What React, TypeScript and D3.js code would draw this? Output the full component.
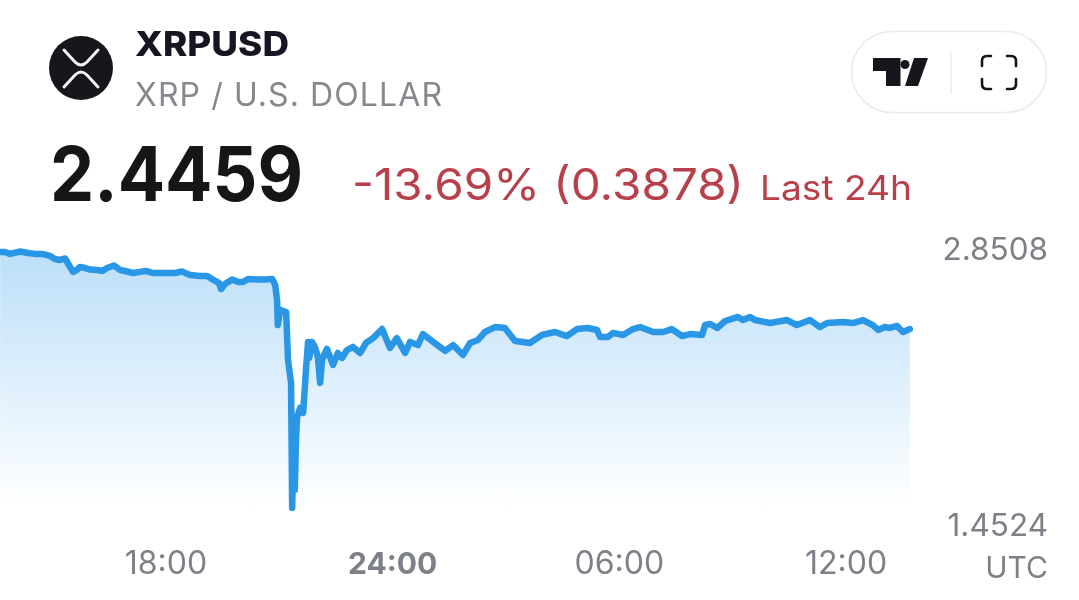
import React from "react";
import * as d3 from "d3";

const symbol = "XRPUSD";
const description = "XRP / U.S. DOLLAR";
const lastPrice = "2.4459";
const change = "-13.69% (0.3878)";
const period = "Last 24h";
const axisUnit = "UTC";

const hours = [
  13.61, 13.74, 13.87, 14.14, 14.35, 14.53, 14.72, 14.93, 15.06, 15.19, 15.33, 15.46, 15.54, 15.64, 15.72, 15.86, 15.99,
  16.17, 16.31, 16.44, 16.62, 16.78, 16.91, 17.13, 17.31, 17.47, 17.66, 17.97, 18.24, 18.42, 18.64, 18.9, 19.09, 19.3,
  19.4, 19.46, 19.56, 19.75, 19.91, 20.04, 20.17, 20.44, 20.62, 20.81, 20.89, 20.94, 20.96, 21.02, 21.18, 21.23, 21.31,
  21.34, 21.39, 21.41, 21.44, 21.47, 21.55, 21.63, 21.71, 21.76, 21.79, 21.86, 21.94, 22.02, 22.08, 22.13, 22.26, 22.42, 22.55,
  22.66, 22.79, 22.95, 23.14, 23.29, 23.48, 23.72, 23.93, 24.11, 24.33, 24.46, 24.67, 24.8, 25.07, 25.39, 25.6, 25.86,
  26.05, 26.26, 26.44, 26.71, 26.97, 27.24, 27.45, 27.63, 27.95, 28.3, 28.61, 28.88, 29.17, 29.41, 29.49, 29.7, 29.83,
  30.1, 30.36, 30.55, 30.89, 31.16, 31.39, 31.66, 31.87, 32.19, 32.27, 32.4, 32.59, 32.8, 33.14, 33.27, 33.46, 33.59,
  33.99, 34.44, 34.7, 35.05, 35.31, 35.5, 35.92, 36.18, 36.45, 36.71, 36.85, 37.03, 37.16, 37.35, 37.51, 37.69,
];

const prices = [
  2.845, 2.845, 2.835, 2.848, 2.84, 2.835, 2.835, 2.824, 2.807, 2.802, 2.81, 2.764, 2.737, 2.748, 2.764, 2.758, 2.75,
  2.748, 2.742, 2.758, 2.772, 2.748, 2.742, 2.731, 2.737, 2.742, 2.731, 2.731, 2.731, 2.739, 2.72, 2.715, 2.715, 2.688,
  2.677, 2.644, 2.671, 2.696, 2.682, 2.682, 2.698, 2.696, 2.696, 2.698, 2.666, 2.584, 2.448, 2.53, 2.519, 2.258, 2.133,
  1.453, 1.931, 1.551, 1.823, 1.948, 1.997, 1.97, 2.22, 2.356, 2.269, 2.356, 2.329, 2.274, 2.133, 2.258, 2.318, 2.231, 2.296,
  2.269, 2.312, 2.329, 2.296, 2.35, 2.377, 2.426, 2.323, 2.377, 2.296, 2.356, 2.339, 2.399, 2.356, 2.307, 2.339, 2.285,
  2.35, 2.367, 2.41, 2.437, 2.432, 2.361, 2.356, 2.35, 2.394, 2.41, 2.388, 2.426, 2.432, 2.421, 2.383, 2.383, 2.405,
  2.394, 2.426, 2.437, 2.41, 2.41, 2.426, 2.388, 2.399, 2.394, 2.448, 2.454, 2.432, 2.47, 2.492, 2.475, 2.492, 2.475,
  2.459, 2.475, 2.448, 2.475, 2.437, 2.459, 2.465, 2.459, 2.475, 2.448, 2.421, 2.437, 2.432, 2.443, 2.41, 2.426,
];

const timeTicks = [18, 24, 30, 36];
const timeTickLabels = ["18:00", "24:00", "06:00", "12:00"];
const priceDomain = [1.4524, 2.8508];
const priceLabels = ["2.8508", "1.4524"];

const FONT = "Inter, 'Liberation Sans', sans-serif";

export default function App() {
  const x = d3.scaleLinear().domain([18, 36]).range([166, 846]);
  const y = d3.scaleLinear().domain(priceDomain).range([508, 251]);
  const points = hours.map((h, i) => [h, prices[i]] as [number, number]);
  const line = d3.line<[number, number]>().x((d) => x(d[0])).y((d) => y(d[1])).curve(d3.curveLinear);
  const area = d3
    .area<[number, number]>()
    .x((d) => x(d[0]))
    .y0(y(priceDomain[0]))
    .y1((d) => y(d[1]));

  return (
    <svg
      width={1079}
      height={600}
      viewBox="0 0 1079 600"
      style={{ position: "absolute", left: 0, top: 0, background: "#fff", fontFamily: FONT }}
    >
      <defs>
        <linearGradient id="fillGrad" gradientUnits="userSpaceOnUse" x1="0" x2="0" y1={251} y2={508}>
          <stop offset="0" stopColor="#bcdff9" />
          <stop offset="1" stopColor="#ffffff" />
        </linearGradient>
        <filter id="soft" x="-5%" y="-5%" width="110%" height="110%">
          <feGaussianBlur stdDeviation="0.6" />
        </filter>
      </defs>

      <g filter="url(#soft)">
        <circle cx={81} cy={68} r={32} fill="#15171b" />
        <path
          d="M64 50 L75 62 Q81 68 87 62 L98 50 M64 87 L75 75 Q81 69 87 75 L98 87"
          fill="none"
          stroke="#f4f4f4"
          strokeWidth={3}
          strokeLinecap="round"
        />
        <text x={135} y={56} fontSize={34} fontWeight={800} fill="#131722" textLength={154} lengthAdjust="spacingAndGlyphs">
          {symbol}
        </text>
        <text x={135} y={106} fontSize={32} fill="#85888d" textLength={307} lengthAdjust="spacing">
          {description}
        </text>
        <text x={50} y={201} fontSize={75} fontWeight={700} fill="#131313" textLength={253} lengthAdjust="spacingAndGlyphs">
          {lastPrice}
        </text>
        <text x={352} y={200} fontSize={44} fill="#b8404c" textLength={392} lengthAdjust="spacingAndGlyphs">
          {change}
        </text>
        <text x={760} y={200} fontSize={34} fill="#b8404c" textLength={152} lengthAdjust="spacingAndGlyphs">
          {period}
        </text>

        <rect x={851.5} y={31.5} width={195} height={81} rx={40.5} fill="#fff" stroke="#e9eaec" strokeWidth={1.5} />
        <line x1={951} x2={951} y1={52} y2={94} stroke="#eceded" strokeWidth={1.5} />
        <path d="M873 58 H900.5 V86 H886 V71 H873 Z" fill="#15171f" />
        <circle cx={905} cy={64.5} r={4.5} fill="#15171f" />
        <path d="M914 58 H928 L918 86 H905 Z" fill="#15171f" />
        <path
          d="M982 66 V61 Q982 56 987 56 H991 M1007 56 H1011 Q1016 56 1016 61 V66 M1016 79 V84 Q1016 89 1011 89 H1007 M991 89 H987 Q982 89 982 84 V79"
          fill="none"
          stroke="#15171f"
          strokeWidth={2.6}
          strokeLinecap="round"
        />

        <path d={area(points) ?? ""} fill="url(#fillGrad)" />
        <path
          d={line(points) ?? ""}
          fill="none"
          stroke="#2a96e6"
          strokeWidth={6.5}
          strokeLinejoin="round"
          strokeLinecap="round"
        />

        {timeTicks.map((t, i) => (
          <text
            key={t}
            x={x(t)}
            y={574}
            textAnchor="middle"
            fontSize={t === 24 ? 30 : 32}
            fontWeight={t === 24 ? 700 : 400}
            fill="#7d8187"
          >
            {timeTickLabels[i]}
          </text>
        ))}
        <text x={1048} y={260} textAnchor="end" fontSize={31.5} fill="#7d8187">
          {priceLabels[0]}
        </text>
        <text x={1048} y={536} textAnchor="end" fontSize={31.5} fill="#7d8187">
          {priceLabels[1]}
        </text>
        <text x={1048} y={578} textAnchor="end" fontSize={30} fill="#7d8187">
          {axisUnit}
        </text>
      </g>
    </svg>
  );
}
